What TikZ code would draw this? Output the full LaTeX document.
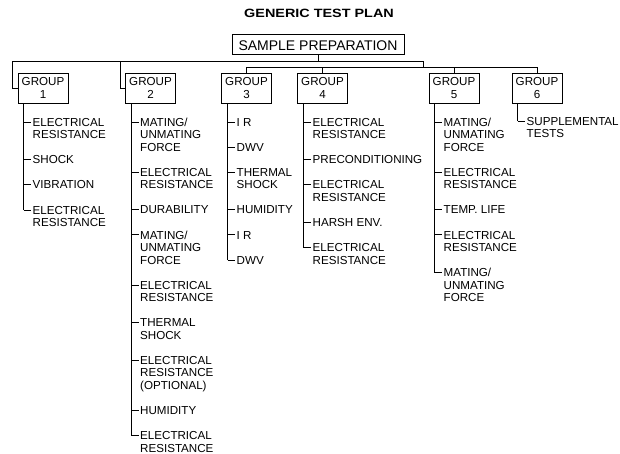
\documentclass[tikz,border=0pt]{standalone}
\usepackage{fontspec}
\setmainfont{Liberation Sans}
\usepackage{graphicx}
\newcommand\stackl[1]{\vtop{\halign{##\hfil\cr#1\crcr}}}
\newcommand\gitem[4]{%
  \coordinate (#1t) at (#2,#3);
  \node[itemtext] (#1) at (#2+9,#3+4.15) {\stackl{#4}};
  \draw[conn] (#1t) -- ([xshift=-1.5pt]#1t -| #1.west);
}
\tikzset{
  conn/.style={draw=black, line width=0.9pt},
  itemtext/.style={anchor=base west, inner sep=0pt, font=\fontsize{11.6}{12.5}\selectfont},
  groupbox/.style={draw=black, line width=0.9pt, minimum width=50pt, minimum height=30pt, inner sep=0pt,
    align=center, font=\fontsize{11.6}{12.6}\selectfont},
  prepbox/.style={draw=black, line width=0.9pt, minimum width=172pt, minimum height=20pt, inner sep=0pt,
    text height=13.6pt, text depth=0pt, font=\fontsize{14}{16}\selectfont},
}
\begin{document}
\begin{tikzpicture}[x=1pt,y=-1pt]
\useasboundingbox (0,0) rectangle (620,454);
\node[inner sep=0pt] (title) at (319,13.2) {\scalebox{1.2}[1]{\bfseries\fontsize{12}{14}\selectfont GENERIC TEST PLAN}};
\node[prepbox] (sp) at (318,44) {SAMPLE PREPARATION};

\node[groupbox] (g1) at (43,88) {GROUP\\1};
\node[groupbox] (g2) at (150.5,88) {GROUP\\2};
\node[groupbox] (g3) at (246.5,88) {GROUP\\3};
\node[groupbox] (g4) at (322.5,88) {GROUP\\4};
\node[groupbox] (g5) at (454,88) {GROUP\\5};
\node[groupbox] (g6) at (537,88) {GROUP\\6};

% buses
\coordinate (busL) at (12,61);
\coordinate (j2) at (120,61);
\coordinate (busR) at (423,61);
\coordinate (bus2L) at (246.5,67.5);
\coordinate (bus2R) at (537,67.5);
\draw[conn] (sp.south) -- (sp.south |- busL);
\draw[conn] (g1.west) -| (busL) -- (busR) |- (bus2L);
\draw[conn] (g2.west) -| (j2);
\draw[conn] (bus2L) -- (bus2R) -- (g6.north);
\draw[conn] (g3.north) -- (g3.north |- bus2L);
\draw[conn] (g4.north) -- (g4.north |- bus2L);
\draw[conn] (g5.north) -- (g5.north |- bus2L);

% group 1
\gitem{g1a}{23.5}{122}{ELECTRICAL\cr RESISTANCE}
\gitem{g1b}{23.5}{159.6}{SHOCK}
\gitem{g1c}{23.5}{184.8}{VIBRATION}
\gitem{g1d}{23.5}{210}{ELECTRICAL\cr RESISTANCE}
\draw[conn] (g1.south -| g1at) -- (g1dt);

% group 2
\gitem{g2a}{131}{122}{MATING/\cr UNMATING\cr FORCE}
\gitem{g2b}{131}{172.2}{ELECTRICAL\cr RESISTANCE}
\gitem{g2c}{131}{209.8}{DURABILITY}
\gitem{g2d}{131}{234.9}{MATING/\cr UNMATING\cr FORCE}
\gitem{g2e}{131}{285}{ELECTRICAL\cr RESISTANCE}
\gitem{g2f}{131}{322.6}{THERMAL\cr SHOCK}
\gitem{g2g}{131}{360.2}{ELECTRICAL\cr RESISTANCE\cr (OPTIONAL)}
\gitem{g2h}{131}{410.3}{HUMIDITY}
\gitem{g2i}{131}{435.4}{ELECTRICAL\cr RESISTANCE}
\draw[conn] (g2.south -| g2at) -- (g2it);

% group 3
\gitem{g3a}{227.5}{122}{I R}
\gitem{g3b}{227.5}{147.1}{DWV}
\gitem{g3c}{227.5}{172.2}{THERMAL\cr SHOCK}
\gitem{g3d}{227.5}{209.8}{HUMIDITY}
\gitem{g3e}{227.5}{234.9}{I R}
\gitem{g3f}{227.5}{260}{DWV}
\draw[conn] (g3.south -| g3at) -- (g3ft);

% group 4
\gitem{g4a}{303.5}{122}{ELECTRICAL\cr RESISTANCE}
\gitem{g4b}{303.5}{159.6}{PRECONDITIONING}
\gitem{g4c}{303.5}{184.8}{ELECTRICAL\cr RESISTANCE}
\gitem{g4d}{303.5}{222.4}{HARSH ENV.}
\gitem{g4e}{303.5}{247.5}{ELECTRICAL\cr RESISTANCE}
\draw[conn] (g4.south -| g4at) -- (g4et);

% group 5
\gitem{g5a}{434.5}{122}{MATING/\cr UNMATING\cr FORCE}
\gitem{g5b}{434.5}{172.2}{ELECTRICAL\cr RESISTANCE}
\gitem{g5c}{434.5}{209.8}{TEMP. LIFE}
\gitem{g5d}{434.5}{234.9}{ELECTRICAL\cr RESISTANCE}
\gitem{g5e}{434.5}{272.5}{MATING/\cr UNMATING\cr FORCE}
\draw[conn] (g5.south -| g5at) -- (g5et);

% group 6
\gitem{g6a}{517.5}{121}{SUPPLEMENTAL\cr TESTS}
\draw[conn] (g6.south -| g6at) -- (g6at);
\end{tikzpicture}
\end{document}
